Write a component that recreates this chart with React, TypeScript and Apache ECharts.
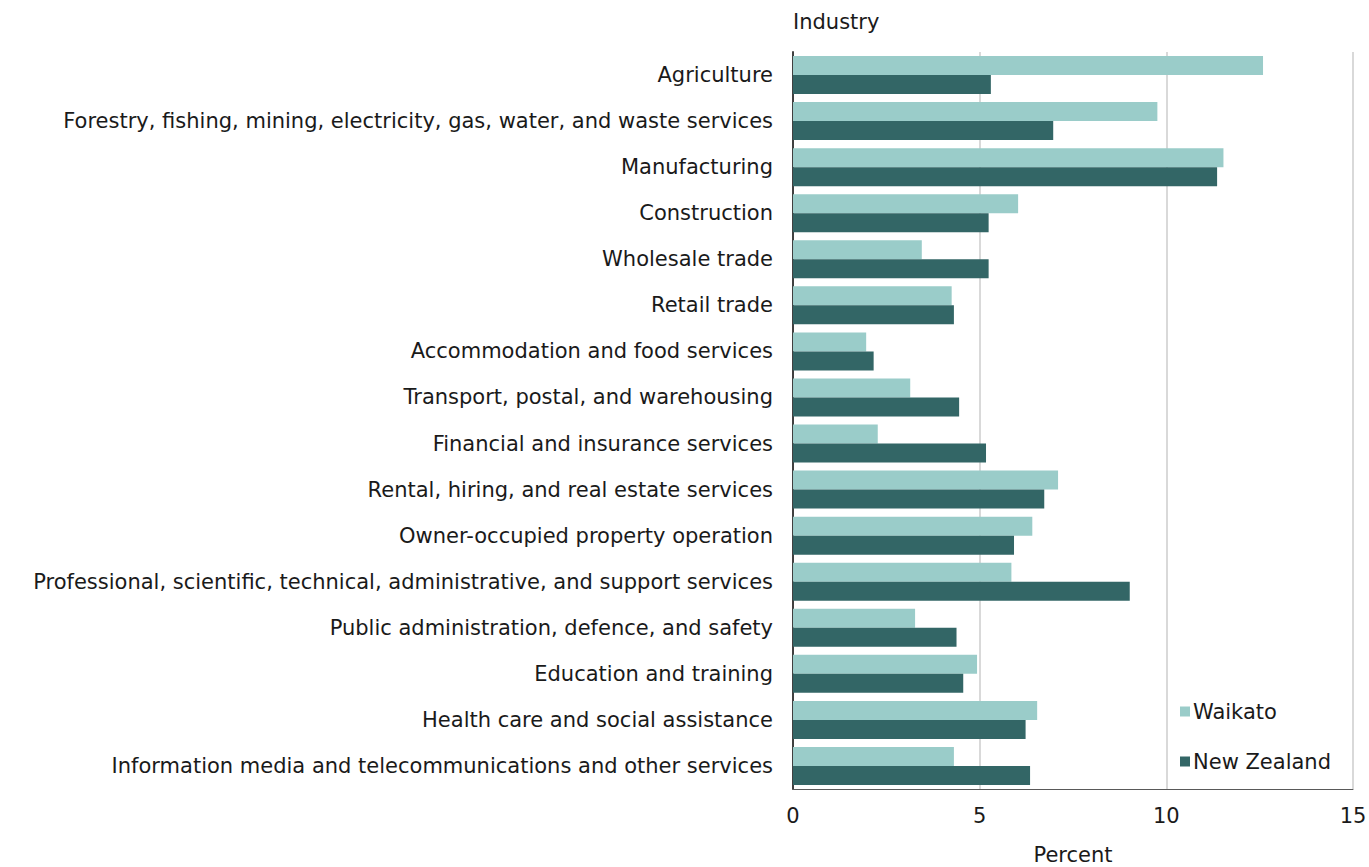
import React, { useEffect, useRef } from "react";
import * as echarts from "echarts";

const categories = [
  "Agriculture",
  "Forestry, fishing, mining, electricity, gas, water, and waste services",
  "Manufacturing",
  "Construction",
  "Wholesale trade",
  "Retail trade",
  "Accommodation and food services",
  "Transport, postal, and warehousing",
  "Financial and insurance services",
  "Rental, hiring, and real estate services",
  "Owner-occupied property operation",
  "Professional, scientific, technical, administrative, and support services",
  "Public administration, defence, and safety",
  "Education and training",
  "Health care and social assistance",
  "Information media and telecommunications and other services",
];

const waikato = [12.59, 9.76, 11.53, 6.03, 3.45, 4.25, 1.96, 3.14, 2.27, 7.1, 6.41, 5.85, 3.27, 4.93, 6.54, 4.31];
const newZealand = [5.3, 6.97, 11.36, 5.24, 5.24, 4.31, 2.16, 4.45, 5.17, 6.73, 5.92, 9.02, 4.38, 4.56, 6.23, 6.35];

const FONT = "'DejaVu Sans', 'Liberation Sans', Arial, sans-serif";
const FS = 21;
const TXT = "#1a1a1a";

export default function App() {
  const ref = useRef<HTMLDivElement>(null);
  useEffect(() => {
    const chart = echarts.init(ref.current!, undefined, { renderer: "svg" });
    chart.setOption({
      animation: false,
      backgroundColor: "#ffffff",
      textStyle: { fontFamily: FONT },
      grid: { left: 793, right: 16, top: 52, bottom: 78, containLabel: false, outerBoundsMode: "none" },
      legend: {
        orient: "vertical",
        left: 1175,
        top: 696,
        itemWidth: 10,
        itemHeight: 10,
        itemGap: 29,
        icon: "rect",
        textStyle: { fontFamily: FONT, fontSize: FS, lineHeight: 21, color: TXT, padding: [0, 0, 0, -2] },
        data: ["Waikato", "New Zealand"],
      },
      xAxis: {
        type: "value",
        min: 0,
        max: 15,
        interval: 5,
        name: "Percent",
        nameLocation: "middle",
        nameGap: 55,
        nameTextStyle: { fontFamily: FONT, fontSize: FS, color: TXT },
        axisLine: { show: true, lineStyle: { color: "#595959", width: 1 } },
        axisTick: { show: false },
        axisLabel: { fontFamily: FONT, fontSize: FS, color: TXT, margin: 16 },
        splitLine: { show: true, lineStyle: { color: "#d9d9d9", width: 2 } },
      },
      yAxis: {
        type: "category",
        data: categories,
        inverse: true,
        name: "Industry",
        nameLocation: "start",
        nameGap: 20,
        nameTextStyle: { fontFamily: FONT, fontSize: FS, color: TXT, align: "left" },
        axisLine: { show: true, lineStyle: { color: "#404040", width: 2 } },
        axisTick: { show: false },
        axisLabel: { fontFamily: FONT, fontSize: FS, color: TXT, margin: 20 },
        splitLine: { show: false },
      },
      series: [
        {
          name: "Waikato",
          type: "bar",
          data: waikato,
          barWidth: 19,
          barGap: "0%",
          itemStyle: { color: "#9accc9" },
        },
        {
          name: "New Zealand",
          type: "bar",
          data: newZealand,
          barWidth: 19,
          barGap: "0%",
          itemStyle: { color: "#336666" },
        },
      ],
    });
    return () => chart.dispose();
  }, []);
  return <div ref={ref} style={{ position: "absolute", left: 0, top: 0, width: 1369, height: 867 }} />;
}
